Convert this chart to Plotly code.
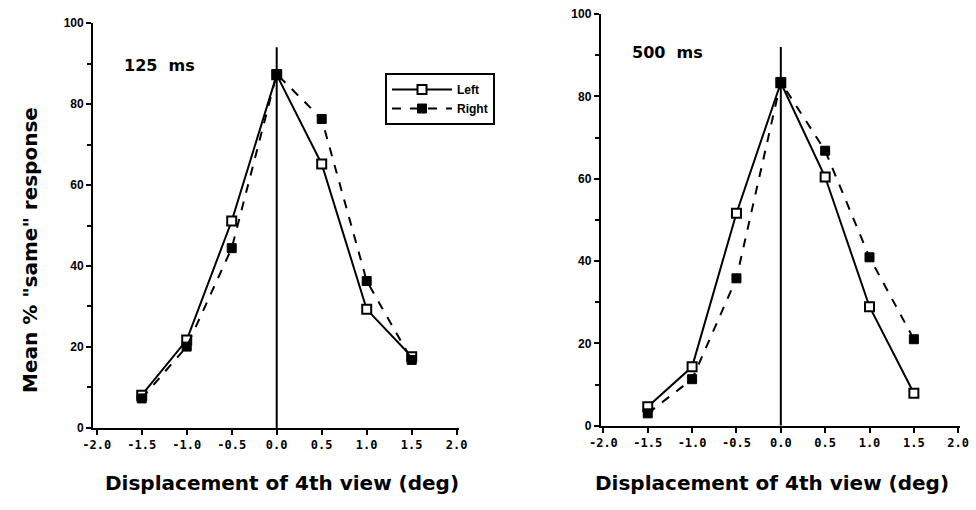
import plotly.graph_objects as go

displacement = [-1.5, -1.0, -0.5, 0.0, 0.5, 1.0, 1.5]

left_125 = [8.1, 21.7, 51.1, 87.2, 65.2, 29.3, 17.6]
right_125 = [7.3, 20.1, 44.4, 87.4, 76.3, 36.3, 16.8]

left_500 = [4.6, 14.3, 51.6, 83.3, 60.4, 28.9, 7.9]
right_500 = [3.0, 11.3, 35.8, 83.5, 66.8, 40.9, 21.0]

x_tick_vals = [-2.0, -1.5, -1.0, -0.5, 0.0, 0.5, 1.0, 1.5, 2.0]
x_tick_text = ["-2.0", "-1.5", "-1.0", "-0.5", "0.0", "0.5", "1.0", "1.5", "2.0"]
y_tick_vals = [0, 20, 40, 60, 80, 100]

panel_labels = ["125  ms", "500  ms"]
center_line_top = [94, 92]

FONT = "Liberation Sans, Arial, Helvetica, sans-serif"
WIDE = "DejaVu Sans, Verdana, sans-serif"
MONO = "DejaVu Sans Mono, monospace"

fig = go.Figure()

series = [
    (left_125, right_125, "x", "y", True),
    (left_500, right_500, "x2", "y2", False),
]
for lv, rv, xa, ya, show in series:
    fig.add_trace(go.Scatter(
        x=displacement, y=lv, xaxis=xa, yaxis=ya, name="Left",
        mode="lines+markers", showlegend=show, legendgroup="L",
        line=dict(color="black", width=2),
        marker=dict(symbol="square", size=9, color="white",
                    line=dict(color="black", width=2)),
        cliponaxis=False,
    ))
    fig.add_trace(go.Scatter(
        x=displacement, y=rv, xaxis=xa, yaxis=ya, name="Right",
        mode="lines+markers", showlegend=show, legendgroup="R",
        line=dict(color="black", width=2, dash="dash"),
        marker=dict(symbol="square", size=9, color="black",
                    line=dict(color="black", width=1)),
        cliponaxis=False,
    ))

for i, (xa, ya) in enumerate([("x", "y"), ("x2", "y2")]):
    fig.add_shape(type="line", xref=xa, yref=ya, x0=0, x1=0, y0=0,
                  y1=center_line_top[i], line=dict(color="black", width=2))

axis_common = dict(
    showgrid=False, zeroline=False, showline=True, linecolor="black",
    linewidth=2, ticks="outside", ticklen=5, tickwidth=2, tickcolor="black",
    automargin=False,
)
xtickfont = dict(family=MONO, size=12, color="black", weight="bold")
ytickfont = dict(family=FONT, size=12, color="black", weight="bold")
yminor = dict(dtick=10, ticklen=4, tickwidth=2, ticks="outside",
              tickcolor="black")

fig.update_layout(
    template="none",
    width=976, height=510,
    margin=dict(l=0, r=0, t=0, b=0, autoexpand=False),
    paper_bgcolor="white", plot_bgcolor="white",
    font=dict(family=FONT, color="black"),
    xaxis=dict(domain=[0.0954, 0.4707], range=[-2.04, 2.03],
               tickvals=x_tick_vals, ticktext=x_tick_text, anchor="y",
               tickfont=xtickfont, **axis_common),
    yaxis=dict(domain=[0.1608, 0.9549], range=[0, 100],
               tickvals=y_tick_vals, anchor="x", minor=yminor,
               tickfont=ytickfont, **axis_common),
    xaxis2=dict(domain=[0.6155, 0.9836], range=[-2.03, 2.02],
                tickvals=x_tick_vals, ticktext=x_tick_text, anchor="y2",
                tickfont=xtickfont, **axis_common),
    yaxis2=dict(domain=[0.1653, 0.9725], range=[0, 100],
                tickvals=y_tick_vals, anchor="x2", minor=yminor,
                tickfont=ytickfont, **axis_common),
    legend=dict(x=385 / 976, y=(510 - 73) / 510, xanchor="left",
                yanchor="top", bgcolor="white", bordercolor="black",
                borderwidth=2, tracegroupgap=0, itemwidth=60,
                font=dict(family=FONT, size=12, color="black", weight="bold")),
)

title_font = dict(family=WIDE, size=20, color="black", weight="bold")
fig.add_annotation(x=282 / 976, y=(510 - 483) / 510, xref="paper", yref="paper",
                   text="Displacement of 4th view (deg)", showarrow=False,
                   xanchor="center", yanchor="middle", font=title_font)
fig.add_annotation(x=772 / 976, y=(510 - 483) / 510, xref="paper", yref="paper",
                   text="Displacement of 4th view (deg)", showarrow=False,
                   xanchor="center", yanchor="middle", font=title_font)
fig.add_annotation(x=30 / 976, y=(510 - 250) / 510, xref="paper", yref="paper",
                   text='Mean % "same" response', showarrow=False,
                   xanchor="center", yanchor="middle",
                   textangle=-90, font=title_font)

label_font = dict(family=WIDE, size=16, color="black", weight="bold")
fig.add_annotation(x=122 / 976, y=(510 - 65) / 510, xref="paper", yref="paper",
                   text=panel_labels[0], showarrow=False, xanchor="left",
                   yanchor="middle", font=label_font)
fig.add_annotation(x=630 / 976, y=(510 - 53) / 510, xref="paper", yref="paper",
                   text=panel_labels[1], showarrow=False, xanchor="left",
                   yanchor="middle", font=label_font)

fig.write_html("out.html")
